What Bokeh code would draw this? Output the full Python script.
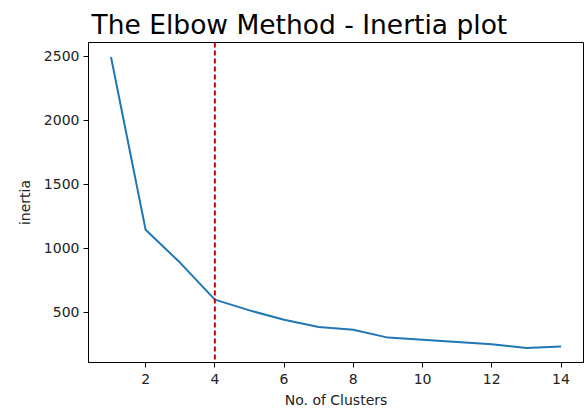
from bokeh.plotting import figure
from bokeh.models import Range1d, Span, FixedTicker
from bokeh.embed import file_html
from bokeh.resources import INLINE

# data
clusters = [1, 2, 3, 4, 5, 6, 7, 8, 9, 10, 11, 12, 13, 14]
inertia = [2495, 1144, 885, 597, 513, 440, 383, 362, 300, 284, 266, 248, 219, 230]
x_ticks = [2, 4, 6, 8, 10, 12, 14]
y_ticks = [500, 1000, 1500, 2000, 2500]
elbow_k = 4

FONT = "DejaVu Sans"

xpad = 0.05 * (max(clusters) - min(clusters))
ypad = 0.05 * (max(inertia) - min(inertia))

p = figure(
    width=586, height=410,
    output_backend="svg", toolbar_location=None,
    x_range=Range1d(min(clusters) - xpad, max(clusters) + xpad),
    y_range=Range1d(min(inertia) - ypad, max(inertia) + ypad),
    min_border_left=88, min_border_right=3,
    min_border_top=42, min_border_bottom=47,
    title="The Elbow Method - Inertia plot",
)

p.title.text_font = FONT
p.title.text_font_size = "26.5px"
p.title.text_font_style = "normal"
p.title.text_color = "#000000"
p.title.align = "left"
p.title.offset = 3
p.title.standoff = 6

p.line(clusters, inertia, line_color="#1f77b4", line_width=2)

p.add_layout(Span(location=elbow_k, dimension="height", line_color="#cc0000",
                  line_dash="5 3", line_width=2))

p.xgrid.visible = False
p.ygrid.visible = False
p.outline_line_color = "#000000"
p.outline_line_width = 1
p.outline_line_alpha = 1

p.xaxis.ticker = FixedTicker(ticks=x_ticks)
p.yaxis.ticker = FixedTicker(ticks=y_ticks)
p.xaxis.axis_label = "No. of Clusters"
p.yaxis.axis_label = "inertia"

for ax in (p.xaxis[0], p.yaxis[0]):
    ax.axis_line_color = "#000000"
    ax.major_tick_line_color = "#000000"
    ax.major_tick_out = 5
    ax.major_tick_in = 0
    ax.minor_tick_line_color = None
    ax.major_label_text_font = FONT
    ax.major_label_text_font_size = "14px"
    ax.major_label_text_color = "#222222"
    ax.major_label_standoff = 4
    ax.axis_label_text_font = FONT
    ax.axis_label_text_font_size = "14px"
    ax.axis_label_text_font_style = "normal"
    ax.axis_label_text_color = "#222222"
    ax.axis_label_standoff = 4

p.xaxis[0].major_label_standoff = 6
p.xaxis[0].axis_label_standoff = 5
p.yaxis[0].major_label_orientation = "horizontal"
p.yaxis[0].axis_label_standoff = 8

open("out.html", "w").write(file_html(p, INLINE))
